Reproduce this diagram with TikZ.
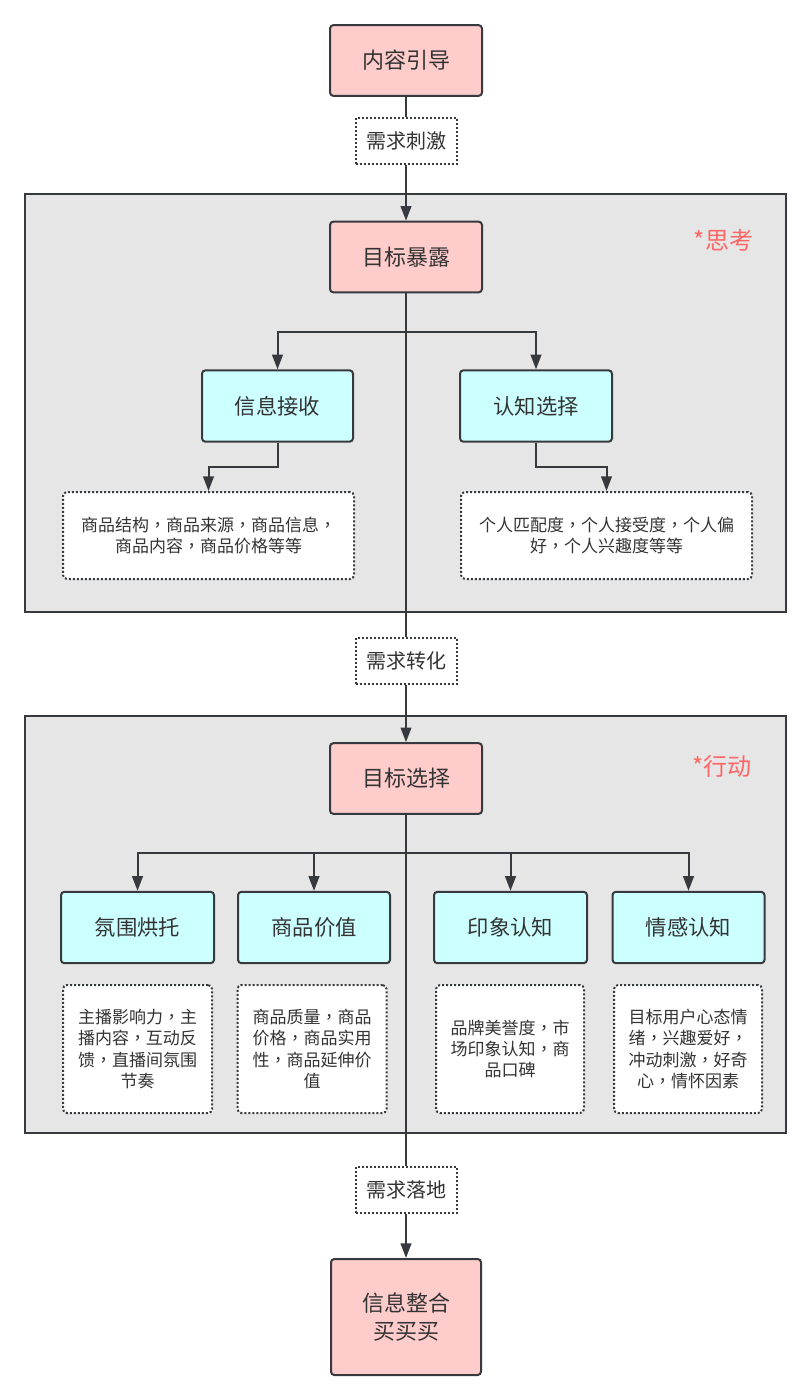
\documentclass[tikz,border=0pt]{standalone}
\usepackage{fontspec}
\setmainfont{Noto Sans CJK SC}
\newfontfamily\tcfont{Noto Sans CJK TC}
\newcommand{\cm}{{\tcfont ，}}
\usetikzlibrary{arrows.meta}
\definecolor{edgec}{HTML}{36393D}
\definecolor{txt}{HTML}{333333}
\definecolor{pinkf}{HTML}{FFCCCC}
\definecolor{cyanf}{HTML}{CCFFFF}
\definecolor{grpf}{HTML}{E6E6E6}
\definecolor{redt}{HTML}{FF6666}
\tikzset{
  base/.style={draw=edgec, line width=1.5pt, text=txt, align=center, inner sep=0pt},
  pinkbox/.style={base, fill=pinkf, rounded corners=2.5pt, minimum width=114pt, minimum height=53pt, font=\fontsize{16.5}{20.5}\selectfont},
  cyanbox/.style={base, fill=cyanf, rounded corners=2.5pt, minimum height=53.5pt, font=\fontsize{16}{20}\selectfont},
  dotbox/.style={base, fill=white, rounded corners=3pt, dash pattern=on 1.5pt off 1.5pt, font=\fontsize{12.75}{16}\selectfont},
  lblbox/.style={base, fill=white, dash pattern=on 1.5pt off 1.5pt, minimum width=75.75pt, minimum height=34.5pt, font=\fontsize{15}{18}\selectfont},
  grp/.style={draw=edgec, line width=1.5pt, fill=grpf},
  sect/.style={text=redt, font=\fontsize{18}{21}\selectfont, inner sep=0pt},
  conn/.style={draw=edgec, line width=1.5pt},
  arr/.style={conn, -{Triangle[length=11pt, width=8pt]}}
}
\begin{document}
\begin{tikzpicture}[x=0.75pt, y=-0.75pt]
\useasboundingbox (0,0) rectangle (811,1400);
\fill[white] (0,0) rectangle (811,1400);

% groups
\draw[grp] (25,194) rectangle (786,612);
\draw[grp] (25,716) rectangle (786,1133);
\node[sect] (s1) at (723.5,240) {*思考};
\node[sect] (s2) at (722,766) {*行动};

% main nodes
\node[pinkbox] (t1) at (406,60.5) {内容引导};
\node[lblbox] (l1) at (406,141) {需求刺激};
\node[pinkbox] (t2) at (406,257) {目标暴露};
\node[cyanbox, minimum width=113.25pt] (c1) at (277.5,406) {信息接收};
\node[cyanbox, minimum width=114pt] (c2) at (536,406) {认知选择};
\node[dotbox, minimum width=218.25pt, minimum height=65.25pt] (d1) at (208.5,535.5) {商品结构\cm 商品来源\cm 商品信息\cm\\商品内容\cm 商品价格等等};
\node[dotbox, minimum width=218.25pt, minimum height=65.25pt] (d2) at (606.5,535.5) {个人匹配度\cm 个人接受度\cm 个人偏\\好\cm 个人兴趣度等等};
\node[lblbox] (l2) at (406,660.5) {需求转化};
\node[pinkbox] (t3) at (406,778.5) {目标选择};

\node[cyanbox, minimum width=114.75pt] (a1) at (137.5,927.5) {氛围烘托};
\node[cyanbox, minimum width=114pt] (a2) at (314,927.5) {商品价值};
\node[cyanbox, minimum width=114.75pt] (a3) at (510.5,927.5) {印象认知};
\node[cyanbox, minimum width=114pt] (a4) at (688.5,927.5) {情感认知};

\node[dotbox, minimum width=111.75pt, minimum height=96pt] (e1) at (137.5,1049) {主播影响力\cm 主\\播内容\cm 互动反\\馈\cm 直播间氛围\\节奏};
\node[dotbox, minimum width=111.75pt, minimum height=96pt] (e2) at (312,1049) {商品质量\cm 商品\\价格\cm 商品实用\\性\cm 商品延伸价\\值};
\node[dotbox, minimum width=111pt, minimum height=96pt] (e3) at (510,1049) {品牌美誉度\cm 市\\场印象认知\cm 商\\品口碑};
\node[dotbox, minimum width=111pt, minimum height=96pt] (e4) at (688,1049) {目标用户心态情\\绪\cm 兴趣爱好\cm\\冲动刺激\cm 好奇\\心\cm 情怀因素};

\node[lblbox] (l3) at (406,1189.5) {需求落地};
\node[pinkbox, minimum width=112.5pt, minimum height=87pt] (t4) at (406,1317) {信息整合\\买买买};

% connectors
\draw[conn] (t1.south) -- (l1.north);
\draw[arr] (l1.south) -- (t2.north);

\coordinate (j1) at (406,332);
\draw[conn] (t2.south) -- (l2.north);
\draw[arr] (j1) -| (c1.north);
\draw[arr] (j1) -| (c2.north);
\draw[arr] (c1.south) -- ++(0,24) -| (d1.north);
\draw[arr] (c2.south) -- ++(0,24) -| (d2.north);
\draw[arr] (l2.south) -- (t3.north);

\coordinate (j2) at (406,853);
\draw[conn] (t3.south) -- (l3.north);
\draw[conn] (a1.north |- j2) -- (a4.north |- j2);
\draw[arr] (j2) -| (a1.north);
\draw[arr] (j2) -| (a2.north);
\draw[arr] (j2) -| (a3.north);
\draw[arr] (j2) -| (a4.north);
\draw[arr] (l3.south) -- (t4.north);
\end{tikzpicture}
\end{document}
